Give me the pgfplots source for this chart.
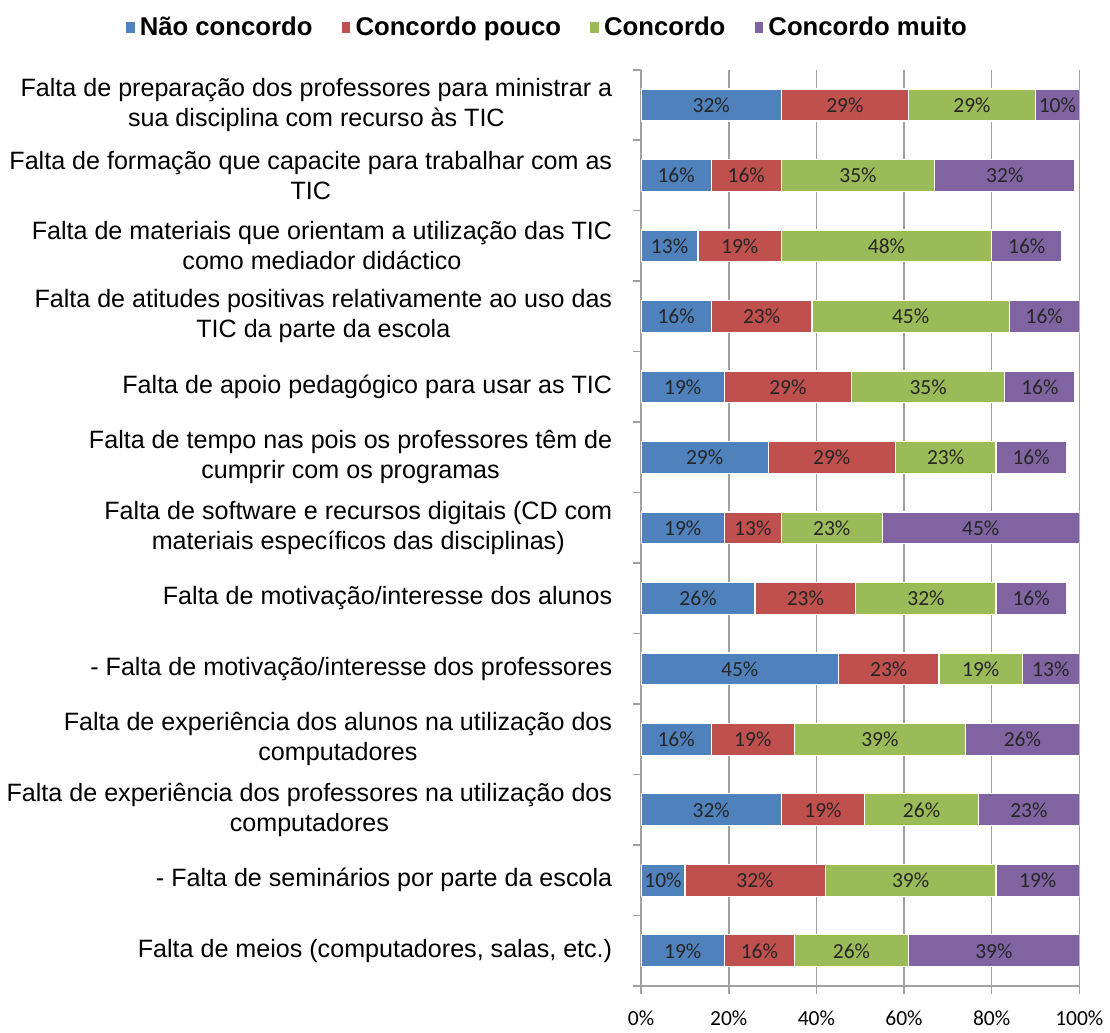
\documentclass[border=0pt]{standalone}
\usepackage{fontspec}
\setmainfont{Liberation Sans}
\newfontfamily\calfont{Carlito}
\usepackage{pgfplots}
\pgfplotsset{compat=1.18}
\usepackage{pgfplotstable}

\definecolor{cblue}{HTML}{4F81BD}
\definecolor{cred}{HTML}{C0504D}
\definecolor{cgreen}{HTML}{9BBB59}
\definecolor{cpurple}{HTML}{8064A2}
\definecolor{gridgray}{HTML}{A0A0A0}

% one row per statement, top to bottom
\pgfplotstableread{
y a b c d
0 32 29 29 10
1 16 16 35 32
2 13 19 48 16
3 16 23 45 16
4 19 29 35 16
5 29 29 23 16
6 19 13 23 45
7 26 23 32 16
8 45 23 19 13
9 16 19 39 26
10 32 19 26 23
11 10 32 39 19
12 19 16 26 39
}\data

\begin{document}
\begin{tikzpicture}
\begin{axis}[
    xbar stacked,
    bar width=16pt,
    width=220pt, height=460pt,
    scale only axis,
    xmin=0, xmax=100,
    ymin=-0.5, ymax=12.5,
    y dir=reverse,
    xtick={0,20,...,100},
    xticklabel={\pgfmathprintnumber[assume math mode=true]{\tick}\%},
    xticklabel style={font=\calfont\fontsize{10.8}{12}\selectfont, yshift=-5pt},
    ytick={0,...,12},
    minor ytick={-0.5,0.5,...,12.5},
    major y tick style={draw=none},
    minor y tick style={gridgray, line width=0.8pt},
    x tick style={gridgray, line width=0.8pt},
    tick align=outside,
    minor tick length=4pt,
    major tick length=4pt,
    yticklabels={
      {Falta de preparação dos professores para ministrar a\\sua disciplina com recurso às TIC},
      {Falta de formação que capacite para trabalhar com as\\TIC},
      {Falta de materiais que orientam a utilização das TIC\\como mediador didáctico},
      {Falta de atitudes positivas relativamente ao uso das\\TIC da parte da escola},
      {Falta de apoio pedagógico para usar as TIC},
      {Falta de tempo nas pois os professores têm de\\cumprir com os programas},
      {Falta de software e recursos digitais (CD com\\materiais específicos das disciplinas)},
      {Falta de motivação/interesse dos alunos},
      {- Falta de motivação/interesse dos professores},
      {Falta de experiência dos alunos na utilização dos\\computadores},
      {Falta de experiência dos professores na utilização dos\\computadores},
      {- Falta de seminários por parte da escola},
      {Falta de meios (computadores, salas, etc.)}
    },
    yticklabel style={align=center, font=\fontsize{12.6}{15}\selectfont, xshift=-7pt},
    axis x line*=bottom,
    axis y line*=left,
    axis line style={gridgray, line width=0.8pt},
    xmajorgrids,
    grid style={gridgray, line width=0.8pt},
    point meta=explicit,
    nodes near coords={\pgfmathprintnumber[assume math mode=true]{\pgfplotspointmeta}\%},
    every node near coord/.append style={
      font=\calfont\fontsize{10.8}{12}\selectfont, text=black!85, anchor=center},
    legend style={at={(-0.213,1.046)}, anchor=center, draw=none,
      legend columns=4, font=\bfseries\fontsize{12.9}{15}\selectfont,
      /tikz/every even column/.append style={column sep=12pt}},
    legend image code/.code={\fill[#1] (0pt,-3pt) rectangle (5pt,3pt);},
]
\addplot[fill=cblue, draw=white, line width=0.6pt] table[x=a, y=y, meta=a]{\data};
\addplot[fill=cred, draw=white, line width=0.6pt] table[x=b, y=y, meta=b]{\data};
\addplot[fill=cgreen, draw=white, line width=0.6pt] table[x=c, y=y, meta=c]{\data};
\addplot[fill=cpurple, draw=white, line width=0.6pt] table[x=d, y=y, meta=d]{\data};
\legend{Não concordo, Concordo pouco, Concordo, Concordo muito}
\end{axis}
% white margin above the legend and below the tick labels, as in the reference
\path (current axis.north west) ++(0pt,35pt);
\path (current axis.south west) ++(0pt,-21pt);
\end{tikzpicture}
\end{document}
